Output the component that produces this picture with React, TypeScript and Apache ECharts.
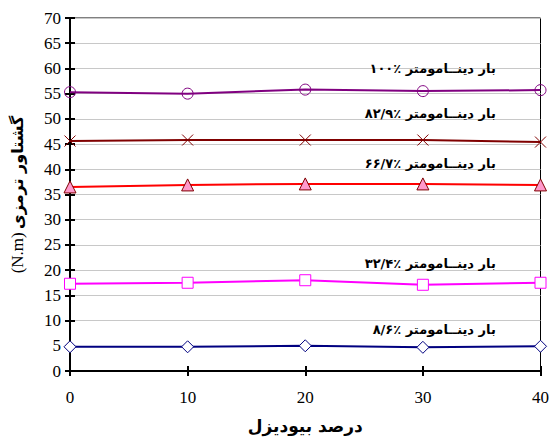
import React, { useEffect, useRef } from "react";
import * as echarts from "echarts";

const xValues = [0, 10, 20, 30, 40];
const load100 = [55.3, 55.0, 55.8, 55.5, 55.7];
const load829 = [45.6, 45.8, 45.8, 45.8, 45.4];
const load667 = [36.5, 36.9, 37.1, 37.1, 36.9];
const load324 = [17.3, 17.5, 18.0, 17.1, 17.5];
const load86 = [4.8, 4.8, 5.0, 4.7, 4.9];

const seriesLabels = [
  "بار دینــامومتر ٪۱۰۰",
  "بار دینــامومتر ٪۸۲/۹",
  "بار دینــامومتر ٪۶۶/۷",
  "بار دینــامومتر ٪۳۲/۴",
  "بار دینــامومتر ٪۸/۶",
];
const labelX = 36.2;
const labelY = [59.9, 51.0, 41.2, 21.4, 8.3];

const xTitle = "درصد بیودیزل";
const yTitleFa = "گشتاور ترمزی";
const yTitleUnit = "(N.m)";

const FA = "DejaVu Sans";
const NUM = "Liberation Serif";

export default function App() {
  const ref = useRef<HTMLDivElement>(null);
  useEffect(() => {
    if (!ref.current) return;
    const chart = echarts.init(ref.current, null, { renderer: "svg" });
    const pairs = (vals: number[]) => xValues.map((x, i) => [x, vals[i]]);
    const mk = (
      name: string,
      vals: number[],
      color: string,
      symbol: string,
      size: number,
      fill: string,
      border: string,
      labelIdx: number
    ) => ({
      name,
      type: "line",
      data: pairs(vals),
      symbol,
      symbolSize: size,
      showAllSymbol: true,
      lineStyle: { color, width: 2 },
      itemStyle: { color: fill, borderColor: border, borderWidth: 1 },
      emphasis: { disabled: true },
      z: 5,
      markPoint: {
        symbol: "circle",
        symbolSize: 0,
        silent: true,
        data: [
          {
            coord: [labelX, labelY[labelIdx]],
            label: {
              show: true,
              formatter: seriesLabels[labelIdx],
              position: "left",
              distance: 0,
              color: "#000",
              fontFamily: FA,
              fontWeight: "bold",
              fontSize: 13,
            },
          },
        ],
      },
    });
    chart.setOption({
      animation: false,
      backgroundColor: "#fff",
      grid: {
        left: 70,
        right: 10,
        top: 18,
        bottom: 68,
        show: true,
        borderColor: "#000",
        borderWidth: 1,
        backgroundColor: "transparent",
      },
      xAxis: [
        {
          type: "value",
          min: 0,
          max: 40,
          interval: 10,
          position: "bottom",
          axisLine: { show: true, lineStyle: { color: "#000", width: 2 } },
          axisTick: { show: true, length: 5, lineStyle: { color: "#000", width: 2 } },
          axisLabel: { color: "#000", fontFamily: NUM, fontSize: 17, margin: 18 },
          splitLine: { show: false },
          name: xTitle,
          nameLocation: "middle",
          nameGap: 46,
          nameTextStyle: { color: "#000", fontFamily: FA, fontWeight: "bold", fontSize: 17 },
        },
        {
          type: "value",
          min: 0,
          max: 40,
          interval: 10,
          position: "bottom",
          offset: 0,
          axisLine: { show: false },
          axisTick: { show: true, inside: true, length: 5, lineStyle: { color: "#000", width: 2 } },
          axisLabel: { show: false },
          splitLine: { show: false },
        },
      ],
      yAxis: [
        {
          type: "value",
          min: 0,
          max: 70,
          interval: 5,
          position: "left",
          axisLine: { show: true, lineStyle: { color: "#000", width: 2 } },
          axisTick: { show: true, length: 5, lineStyle: { color: "#000", width: 2 } },
          axisLabel: { color: "#000", fontFamily: NUM, fontSize: 17, margin: 9 },
          splitLine: { show: true, lineStyle: { color: "#c8c8c8", width: 1 } },
          name: `{u|${yTitleUnit}} {f|${yTitleFa}}`,
          nameLocation: "middle",
          nameGap: 44,
          nameRotate: 90,
          nameTextStyle: {
            rich: {
              u: { color: "#000", fontFamily: NUM, fontSize: 17 },
              f: { color: "#000", fontFamily: FA, fontWeight: "bold", fontSize: 16 },
            },
          },
        },
        {
          type: "value",
          min: 0,
          max: 70,
          interval: 5,
          position: "left",
          offset: 0,
          axisLine: { show: false },
          axisTick: { show: true, inside: true, length: 5, lineStyle: { color: "#000", width: 2 } },
          axisLabel: { show: false },
          splitLine: { show: false },
        },
      ],
      series: [
        mk("100", load100, "#800080", "circle", 11, "rgba(255,255,255,0)", "#800080", 0),
        mk("82.9", load829, "#800000", "path://M0,0L10,10M10,0L0,10", 11, "#800000", "#800000", 1),
        mk("66.7", load667, "#ff0000", "triangle", 12, "#ff99cc", "#800000", 2),
        mk("32.4", load324, "#ff00ff", "rect", 11, "#ffffff", "#ff00ff", 3),
        mk("8.6", load86, "#000080", "diamond", 12, "#ffffff", "#000080", 4),
      ],
    });
    return () => chart.dispose();
  }, []);
  return <div ref={ref} style={{ width: 552, height: 439, position: "absolute", left: 0, top: 0 }} />;
}
